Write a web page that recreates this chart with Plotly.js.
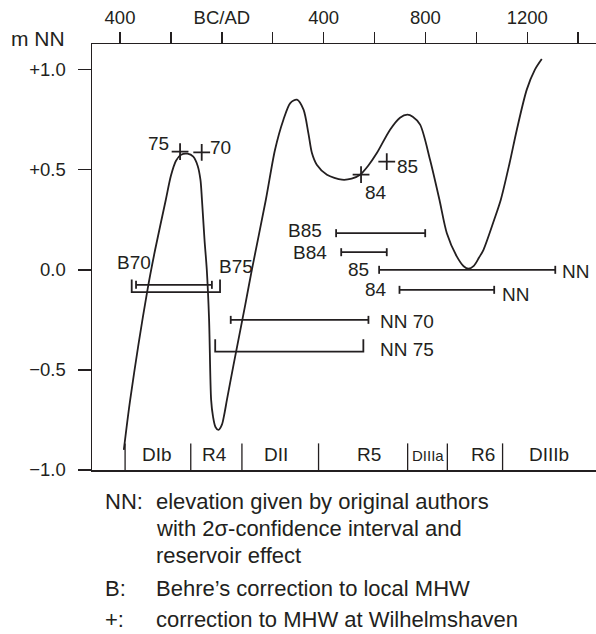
<!DOCTYPE html>
<html>
<head>
<meta charset="utf-8">
<script src="https://cdn.plot.ly/plotly-3.0.1.min.js"></script>
<style>html,body{margin:0;padding:0;background:#fff;}#chart{width:596px;height:634px;}</style>
</head>
<body>
<div id="chart"></div>
<script>
// ---- data ----
const curveYears = [-385, -360, -292, -262, -220, -200, -180, -160, -135, -112, -95, -84, -78, -68, -59, -50, -42, -35, -25, -13, 0, 10, 20, 46, 92, 118, 173, 209, 242, 269, 295, 321, 340, 354, 373, 413, 472, 510, 543, 575, 609, 661, 700, 729, 750, 779, 818, 855, 884, 923, 950, 969, 990, 1010, 1028, 1070, 1096, 1130, 1159, 1198, 1230, 1257];
const curveLevels = [-0.90, -0.65, -0.10, 0.10, 0.35, 0.47, 0.545, 0.575, 0.58, 0.565, 0.52, 0.45, 0.35, 0.15, 0.0, -0.25, -0.65, -0.73, -0.785, -0.80, -0.775, -0.72, -0.65, -0.475, -0.175, 0.0, 0.35, 0.60, 0.75, 0.833, 0.85, 0.80, 0.683, 0.583, 0.525, 0.475, 0.45, 0.455, 0.475, 0.52, 0.583, 0.70, 0.76, 0.775, 0.765, 0.725, 0.55, 0.35, 0.183, 0.067, 0.018, 0.006, 0.02, 0.06, 0.10, 0.25, 0.35, 0.53, 0.70, 0.90, 1.00, 1.053];

const crossNames = ['75', '70', '84', '85'];
const crossYears = [-164, -79, 547, 648];
const crossLevels = [0.59, 0.587, 0.475, 0.54];

const barNames = ['B70', 'B75', 'NN 70', 'NN 75', 'B85', 'B84', '85', '84'];
const barStart = [-337, -354, 35, -26, 449, 469, 618, 698];
const barEnd = [-39, -7, 576, 556, 799, 648, 1310, 1070];
const barLevel = [-0.075, -0.111, -0.25, -0.409, 0.183, 0.088, 0.0, -0.10];
const barKind = ['cap', 'bracket', 'cap', 'bracket', 'cap', 'cap', 'cap', 'cap'];

const periodNames = ['DIb', 'R4', 'DII', 'R5', 'DIIIa', 'R6', 'DIIIb'];
const periodBounds = [-380, -122, 79, 380, 730, 886, 1103];
const periodMids = [-253, -30, 213, 580, 809, 1025, 1287];

const xTickVals = [-400, -200, 0, 200, 400, 600, 800, 1000, 1200, 1400];
const xTickText = ['400', '', 'BC/AD', '', '400', '', '800', '', '1200', ''];
const yTickVals = [-1, -0.5, 0, 0.5, 1];
const yTickText = ['\u22121.0', '\u22120.5', '0.0', '+0.5', '+1.0'];

const legendKeys = ['NN:', '', '', 'B:', '+:'];
const legendLines = ['elevation given by original authors', 'with 2\u03c3-confidence interval and', 'reservoir effect',
  'Behre\u2019s correction to local MHW', 'correction to MHW at Wilhelmshaven'];

// ---- style ----
const INK = '#231f20';
const FONT = 'Liberation Sans, Arial, sans-serif';
const CAP = 0.02, BRACKET = 0.062;
const Y_TOP = 1.128, Y_BOT = -1.0;
const SEP_TOP = -0.867;

const traces = [];
traces.push({x: curveYears, y: curveLevels, mode: 'lines', type: 'scatter',
  line: {color: INK, width: 1.8, shape: 'spline', smoothing: 0.8}, hoverinfo: 'skip'});

// bars
const capX = [], capY = [], brX = [], brY = [];
barNames.forEach((n, i) => {
  const s = barStart[i], e = barEnd[i], v = barLevel[i];
  if (barKind[i] === 'cap') {
    capX.push(s, e, null, s, s, null, e, e, null);
    capY.push(v, v, null, v - CAP, v + CAP, null, v - CAP, v + CAP, null);
  } else {
    brX.push(s, s, e, e, null);
    brY.push(v + BRACKET, v, v, v + BRACKET, null);
  }
});
traces.push({x: capX, y: capY, mode: 'lines', type: 'scatter', line: {color: INK, width: 1.8}, hoverinfo: 'skip'});
traces.push({x: brX, y: brY, mode: 'lines', type: 'scatter', line: {color: INK, width: 1.8}, hoverinfo: 'skip'});

// crosses
traces.push({x: crossYears, y: crossLevels, mode: 'markers', type: 'scatter',
  marker: {symbol: 'cross-thin', size: 12, line: {color: INK, width: 1.8}}, hoverinfo: 'skip'});

// period separators
const sepX = [], sepY = [];
periodBounds.forEach(b => { sepX.push(b, b, null); sepY.push(SEP_TOP, Y_BOT, null); });
traces.push({x: sepX, y: sepY, mode: 'lines', type: 'scatter', line: {color: INK, width: 1.3}, hoverinfo: 'skip'});

const ann = [];
const fs = 19;
function A(text, x, y, xanchor, opts) {
  ann.push(Object.assign({text: text, x: x, y: y, xref: 'x', yref: 'y', xanchor: xanchor, yanchor: 'middle',
    showarrow: false, font: {family: FONT, size: fs, color: INK}}, opts || {}));
}
// cross labels
A(crossNames[0], crossYears[0], crossLevels[0], 'right', {xshift: -9, yshift: 8});
A(crossNames[1], crossYears[1], crossLevels[1], 'left', {xshift: 6, yshift: 5});
A(crossNames[2], crossYears[2], crossLevels[2], 'center', {xshift: 15, yshift: -18});
A(crossNames[3], crossYears[3], crossLevels[3], 'left', {xshift: 8, yshift: -5});
// bar labels
A('B70', barStart[0], barLevel[0], 'left', {xshift: -21, yshift: 22});
A('B75', barEnd[1], barLevel[1], 'left', {xshift: -3, yshift: 26});
A('NN 70', barEnd[2], barLevel[2], 'left', {xshift: 10, yshift: -2});
A('NN 75', barEnd[3], barLevel[3], 'left', {xshift: 15, yshift: 2});
A('B85', barStart[4], barLevel[4], 'right', {xshift: -12, yshift: 3});
A('B84', barStart[5], barLevel[5], 'right', {xshift: -12, yshift: 0});
A('85', barStart[6], barLevel[6], 'right', {xshift: -8, yshift: 0});
A('NN', barEnd[6], barLevel[6], 'left', {xshift: 5, yshift: -2});
A('84', barStart[7], barLevel[7], 'right', {xshift: -10, yshift: 0});
A('NN', barEnd[7], barLevel[7], 'left', {xshift: 6, yshift: -5});
// period labels
periodNames.forEach((n, i) => {
  A(n, periodMids[i], -0.925, 'center', {font: {family: FONT, size: n === 'DIIIa' ? 15 : 19, color: INK}, yshift: n === 'DIIIa' ? -1 : 0});
});
// y-axis title
ann.push({text: 'm NN', xref: 'paper', yref: 'paper', x: -0.164, y: 1.0, xanchor: 'left', yanchor: 'middle', yshift: 6,
  showarrow: false, font: {family: FONT, size: 21, color: INK}});
// legend text
const legendPy = [501, 528, 555, 588, 619];
const LFS = 22;
legendLines.forEach((t, i) => {
  const yp = (470 - legendPy[i]) / 426;
  if (legendKeys[i]) ann.push({text: legendKeys[i], xref: 'paper', yref: 'paper', x: (104 - 92) / 504, y: yp, xanchor: 'left', yanchor: 'middle',
    showarrow: false, borderpad: 0, font: {family: FONT, size: LFS, color: INK}});
  ann.push({text: t, xref: 'paper', yref: 'paper', x: (155 - 92) / 504, y: yp, xanchor: 'left', yanchor: 'middle',
    showarrow: false, borderpad: 0, font: {family: FONT, size: LFS, color: INK}});
});

const layout = {
  width: 596, height: 634,
  margin: {l: 92, r: 0, t: 44, b: 164, pad: 0},
  paper_bgcolor: '#fff', plot_bgcolor: '#fff',
  showlegend: false,
  font: {family: FONT, size: 18, color: INK},
  xaxis: {side: 'top', range: [-510, 1470], tickvals: xTickVals, ticktext: xTickText,
    ticks: 'outside', ticklen: 11, tickwidth: 1.5, tickcolor: INK,
    showline: true, linecolor: INK, linewidth: 1.5, mirror: true,
    showgrid: false, zeroline: false, tickfont: {family: FONT, size: 18.5, color: INK}, fixedrange: true},
  yaxis: {range: [Y_BOT, Y_TOP], tickvals: yTickVals, ticktext: yTickText,
    ticks: 'outside', ticklen: 13, tickwidth: 1.5, tickcolor: INK, ticklabelstandoff: 8,
    showline: true, linecolor: INK, linewidth: 1.5, mirror: false,
    showgrid: false, zeroline: false, tickfont: {family: FONT, size: 18.5, color: INK}, fixedrange: true},
  annotations: ann
};
Plotly.newPlot('chart', traces, layout, {staticPlot: true, displayModeBar: false});
</script>
</body>
</html>
